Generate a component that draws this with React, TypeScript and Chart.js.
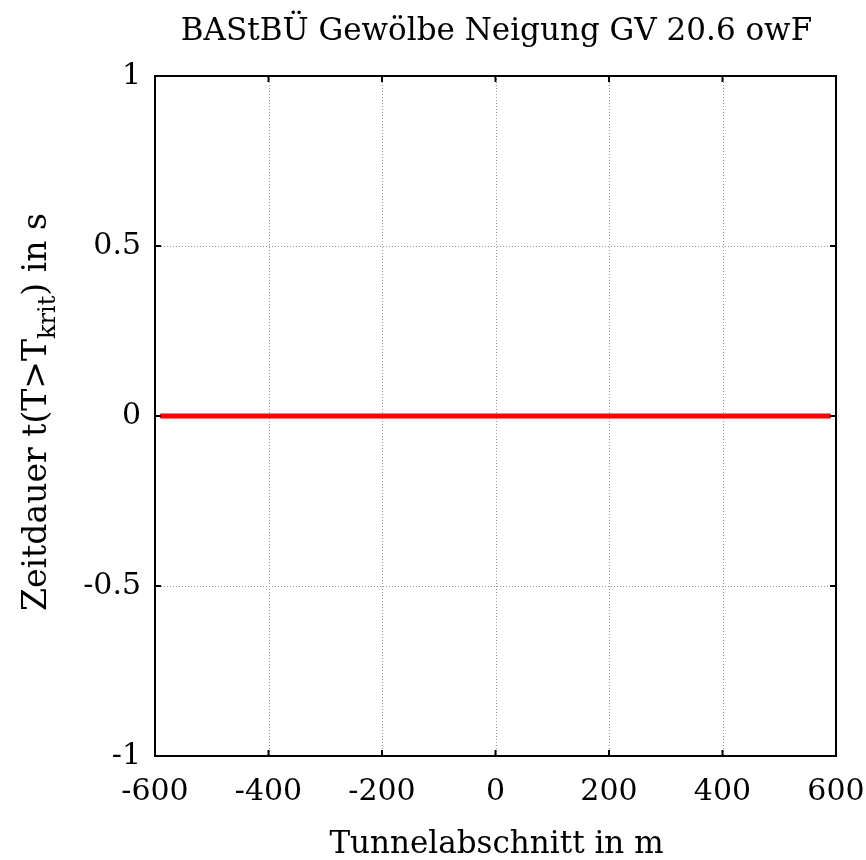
import React, { useEffect, useRef } from "react";
import { Chart, registerables } from "chart.js";

Chart.register(...registerables);

const xTicks = [-600, -400, -200, 0, 200, 400, 600];
const yTicks = [-1, -0.5, 0, 0.5, 1];
const positions = [-591, 591];
const durations = [0, 0];
const titleText = "BAStBÜ Gewölbe Neigung GV 20.6 owF";
const xLabelText = "Tunnelabschnitt in m";
const yLabelMain = "Zeitdauer t(T>T";
const yLabelSub = "krit";
const yLabelEnd = ") in s";

const FONT = "'DejaVu Serif', 'Liberation Serif', serif";

const framePlugin = {
  id: "frame",
  beforeDatasetsDraw(chart: any) {
    const { ctx, chartArea: a, scales } = chart;
    ctx.save();
    ctx.strokeStyle = "#9a9a9a";
    ctx.lineWidth = 1;
    ctx.setLineDash([1, 2]);
    xTicks.forEach((v) => {
      const x = Math.round(scales.x.getPixelForValue(v)) + 0.5;
      ctx.beginPath();
      ctx.moveTo(x, a.top);
      ctx.lineTo(x, a.bottom);
      ctx.stroke();
    });
    yTicks.forEach((v) => {
      const y = Math.round(scales.y.getPixelForValue(v)) + 0.5;
      ctx.beginPath();
      ctx.moveTo(a.left, y);
      ctx.lineTo(a.right, y);
      ctx.stroke();
    });
    ctx.restore();
  },
  afterDatasetsDraw(chart: any) {
    const { ctx, chartArea: a, scales } = chart;
    ctx.save();
    ctx.strokeStyle = "#000";
    ctx.lineWidth = 2;
    ctx.setLineDash([]);
    ctx.strokeRect(a.left, a.top, a.right - a.left, a.bottom - a.top);
    const tl = 6;
    xTicks.forEach((v) => {
      const x = scales.x.getPixelForValue(v);
      ctx.beginPath();
      ctx.moveTo(x, a.bottom);
      ctx.lineTo(x, a.bottom - tl);
      ctx.moveTo(x, a.top);
      ctx.lineTo(x, a.top + tl);
      ctx.stroke();
    });
    yTicks.forEach((v) => {
      const y = scales.y.getPixelForValue(v);
      ctx.beginPath();
      ctx.moveTo(a.left, y);
      ctx.lineTo(a.left + tl, y);
      ctx.moveTo(a.right, y);
      ctx.lineTo(a.right - tl, y);
      ctx.stroke();
    });
    ctx.restore();
  },
  afterDraw(chart: any) {
    const { ctx, chartArea: a } = chart;
    const cx = (a.left + a.right) / 2 + 1;
    ctx.save();
    ctx.fillStyle = "#000";
    ctx.textBaseline = "alphabetic";
    ctx.textAlign = "center";
    ctx.font = `31px ${FONT}`;
    ctx.fillText(titleText, cx, 40);
    ctx.font = `31px ${FONT}`;
    ctx.fillText(xLabelText, cx, 853);

    // y label with subscript
    const cy = (a.top + a.bottom) / 2 - 4;
    ctx.translate(46, cy);
    ctx.rotate(-Math.PI / 2);
    ctx.textAlign = "left";
    const mainFont = `33px ${FONT}`;
    const subFont = `24px ${FONT}`;
    ctx.font = mainFont;
    const w1 = ctx.measureText(yLabelMain).width;
    const w3 = ctx.measureText(yLabelEnd).width;
    ctx.font = subFont;
    const w2 = ctx.measureText(yLabelSub).width;
    let x0 = -(w1 + w2 + w3) / 2;
    ctx.font = mainFont;
    ctx.fillText(yLabelMain, x0, 0);
    x0 += w1;
    ctx.font = subFont;
    ctx.fillText(yLabelSub, x0, 9);
    x0 += w2;
    ctx.font = mainFont;
    ctx.fillText(yLabelEnd, x0, 0);
    ctx.restore();
  },
};

export default function App() {
  const ref = useRef<HTMLCanvasElement | null>(null);
  useEffect(() => {
    if (!ref.current) return;
    const chart = new Chart(ref.current, {
      type: "line",
      data: {
        datasets: [
          {
            data: positions.map((x, i) => ({ x, y: durations[i] })),
            borderColor: "#ff0000",
            borderWidth: 5,
            pointRadius: 0,
            borderCapStyle: "butt",
            fill: false,
          },
        ],
      },
      options: {
        responsive: false,
        animation: false,
        layout: { padding: { top: 76, right: 30, left: 0, bottom: 0 } },
        plugins: {
          legend: { display: false },
          title: { display: false },
          tooltip: { enabled: false },
        },
        scales: {
          x: {
            type: "linear",
            min: -600,
            max: 600,
            afterBuildTicks: (s: any) => {
              s.ticks = xTicks.map((v) => ({ value: v }));
            },
            afterFit: (s: any) => {
              s.height = 104;
              s.paddingLeft = 0;
              s.paddingRight = 0;
            },
            grid: { display: false, drawTicks: false },
            border: { display: false },
            ticks: {
              color: "#000",
              padding: 18,
              maxRotation: 0,
              autoSkip: false,
              font: { family: FONT, size: 30 },
              callback: (v: any) => String(v),
            },
          },
          y: {
            type: "linear",
            min: -1,
            max: 1,
            afterBuildTicks: (s: any) => {
              s.ticks = yTicks.map((v) => ({ value: v }));
            },
            afterFit: (s: any) => {
              s.width = 155;
              s.paddingTop = 0;
              s.paddingBottom = 0;
            },
            grid: { display: false, drawTicks: false },
            border: { display: false },
            ticks: {
              color: "#000",
              padding: 14,
              autoSkip: false,
              font: { family: FONT, size: 30 },
              callback: (v: any) => String(v),
            },
          },
        },
      } as any,
      plugins: [framePlugin],
    });
    return () => chart.destroy();
  }, []);
  return (
    <div style={{ position: "absolute", left: 0, top: 0, width: 866, height: 860, background: "#fff" }}>
      <canvas ref={ref} width={866} height={860} style={{ display: "block" }} />
    </div>
  );
}
